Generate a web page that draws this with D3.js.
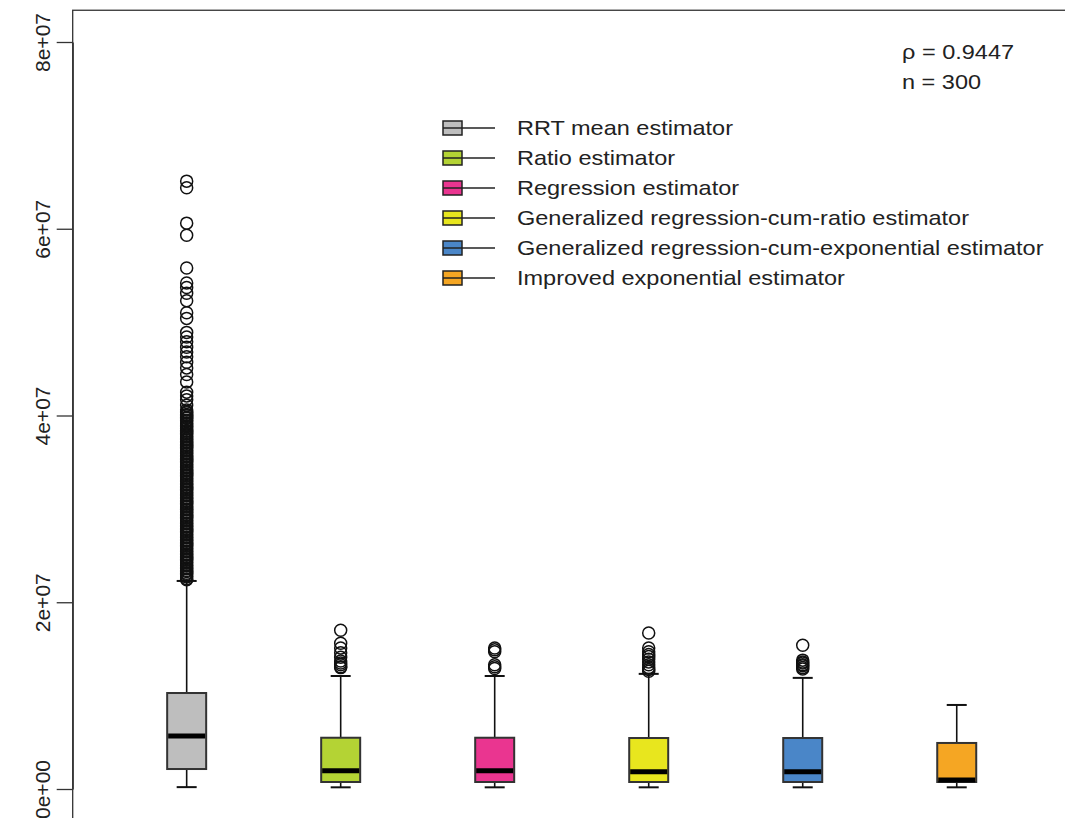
<!DOCTYPE html>
<html>
<head>
<meta charset="utf-8">
<script src="https://cdn.jsdelivr.net/npm/d3@7"></script>
<style>
  body { margin: 0; background: #fff; }
  text { font-family: "Liberation Sans", Arial, sans-serif; fill: #222; }
</style>
</head>
<body>
<div id="chart"></div>
<script>
// estimator names, in box order
var categories = [
    "RRT mean estimator",
    "Ratio estimator",
    "Regression estimator",
    "Generalized regression-cum-ratio estimator",
    "Generalized regression-cum-exponential estimator",
    "Improved exponential estimator"
];
var colors = ["#bebebe", "#b4d334", "#ea3590", "#e8e61e", "#4a86c8", "#f5a623"];

// box statistics
var whiskerLow  = [0.02e7, 0.018e7, 0.018e7, 0.018e7, 0.018e7, 0.018e7];
var quartile1   = [0.214e7, 0.075e7, 0.075e7, 0.075e7, 0.075e7, 0.075e7];
var medians     = [0.568e7, 0.196e7, 0.196e7, 0.185e7, 0.185e7, 0.097e7];
var quartile3   = [1.028e7, 0.549e7, 0.549e7, 0.546e7, 0.546e7, 0.493e7];
var whiskerHigh = [2.228e7, 1.21e7, 1.21e7, 1.233e7, 1.19e7, 0.90e7];

// outliers (e7 units)
var outliersRRT = [6.51, 6.44, 6.06, 5.93, 5.58, 5.42, 5.37, 5.31, 5.23, 5.10, 5.04,
    4.89, 4.84, 4.79, 4.73, 4.68, 4.63, 4.57, 4.51, 4.44, 4.36, 4.25, 4.21, 4.17, 4.11,
    4.06, 4.04, 4.03, 4.01, 4.00, 3.98, 3.97, 3.95, 3.94, 3.92, 3.91, 3.89, 3.88, 3.86,
    3.84, 3.83, 3.81, 3.80, 3.78, 3.77, 3.75, 3.74, 3.72, 3.71, 3.69, 3.68, 3.66, 3.65,
    3.63, 3.62, 3.60, 3.59, 3.57, 3.56, 3.54, 3.53, 3.51, 3.50, 3.48, 3.47, 3.45, 3.44,
    3.42, 3.41, 3.39, 3.38, 3.36, 3.35, 3.33, 3.32, 3.30, 3.29, 3.27, 3.26, 3.24, 3.23,
    3.21, 3.20, 3.18, 3.17, 3.15, 3.14, 3.12, 3.11, 3.09, 3.08, 3.06, 3.05, 3.03, 3.02,
    3.00, 2.99, 2.97, 2.96, 2.94, 2.93, 2.91, 2.90, 2.88, 2.87, 2.85, 2.84, 2.82, 2.81,
    2.79, 2.78, 2.76, 2.75, 2.73, 2.72, 2.70, 2.69, 2.67, 2.66, 2.64, 2.63, 2.61, 2.60,
    2.58, 2.57, 2.55, 2.54, 2.52, 2.51, 2.49, 2.48, 2.46, 2.45, 2.43, 2.42, 2.40, 2.39,
    2.37, 2.36, 2.34, 2.33, 2.31, 2.30, 2.28, 2.27, 2.25, 2.24];
var outliersRatio = [1.70, 1.56, 1.51, 1.46, 1.41, 1.37, 1.35, 1.33, 1.31, 1.30];
var outliersRegression = [1.51, 1.49, 1.47, 1.33, 1.31, 1.29];
var outliersGenRatio = [1.67, 1.51, 1.47, 1.44, 1.42, 1.39, 1.36, 1.33, 1.30, 1.28, 1.26];
var outliersGenExp = [1.54, 1.38, 1.36, 1.35, 1.33, 1.32, 1.30, 1.285];
var outliersImproved = [];
var outliers = [outliersRRT, outliersRatio, outliersRegression, outliersGenRatio, outliersGenExp, outliersImproved];

var yTicks = [0, 2e7, 4e7, 6e7, 8e7];
var yTickLabels = ["0e+00", "2e+07", "4e+07", "6e+07", "8e+07"];
var annotation = ["\u03c1 = 0.9447", "n = 300"];

var canvas_width = 1065,
    canvas_height = 818;

var svg = d3.select("#chart")
    .append("svg")
    .attr("width", canvas_width)
    .attr("height", canvas_height);

// R style extended limits (4%)
var xScale = d3.scaleLinear()
    .domain([0.26, 6.74])
    .range([72.7, 1070.7]);

var yScale = d3.scaleLinear()
    .domain([0, 8e7])
    .range([789, 42]);

var boxW = 39, capW = 20;
var stretch = 1.12; // horizontal text looks wider than the rotated labels

// frame
svg.append("rect")
    .attr("x", xScale(0.26))
    .attr("y", yScale(8.34e7))
    .attr("width", xScale(6.74) - xScale(0.26))
    .attr("height", yScale(-0.32e7) - yScale(8.34e7))
    .attr("fill", "none")
    .attr("stroke", "#333")
    .attr("stroke-width", 1.3);

// y axis
var yAxis = svg.append("g")
    .attr("transform", "translate(" + xScale(0.26) + ",0)")
    .call(d3.axisLeft(yScale)
        .tickValues(yTicks)
        .tickFormat(function (d, i) { return yTickLabels[i]; })
        .tickSize(16)
        .tickSizeOuter(0));
yAxis.select(".domain").attr("stroke", "#333").attr("stroke-width", 1.3);
yAxis.selectAll(".tick line").attr("stroke", "#333").attr("stroke-width", 1.3);
yAxis.selectAll(".tick text")
    .attr("transform", "rotate(-90)")
    .attr("text-anchor", "middle")
    .attr("x", 0)
    .attr("y", -23)
    .attr("dy", 0)
    .style("font-size", "21px")
    .style("font-family", "'Liberation Sans', Arial, sans-serif")
    .attr("fill", "#222");

var boxes = svg.selectAll(".box")
    .data(categories)
    .enter()
    .append("g")
    .attr("class", "box");

// whiskers
boxes.append("line")
    .attr("x1", (d, i) => xScale(i + 1)).attr("x2", (d, i) => xScale(i + 1))
    .attr("y1", (d, i) => yScale(whiskerLow[i])).attr("y2", (d, i) => yScale(quartile1[i]))
    .attr("stroke", "#111").attr("stroke-width", 1.6);
boxes.append("line")
    .attr("x1", (d, i) => xScale(i + 1)).attr("x2", (d, i) => xScale(i + 1))
    .attr("y1", (d, i) => yScale(whiskerHigh[i])).attr("y2", (d, i) => yScale(quartile3[i]))
    .attr("stroke", "#111").attr("stroke-width", 1.6);
// caps
[whiskerLow, whiskerHigh].forEach(function (arr) {
    boxes.append("line")
        .attr("x1", (d, i) => xScale(i + 1) - capW / 2).attr("x2", (d, i) => xScale(i + 1) + capW / 2)
        .attr("y1", (d, i) => yScale(arr[i])).attr("y2", (d, i) => yScale(arr[i]))
        .attr("stroke", "#111").attr("stroke-width", 2);
});

// boxes
boxes.append("rect")
    .attr("x", (d, i) => xScale(i + 1) - boxW / 2)
    .attr("y", (d, i) => yScale(quartile3[i]))
    .attr("width", boxW)
    .attr("height", (d, i) => yScale(quartile1[i]) - yScale(quartile3[i]))
    .attr("fill", (d, i) => colors[i])
    .attr("stroke", "#333")
    .attr("stroke-width", 2);

// medians
boxes.append("line")
    .attr("x1", (d, i) => xScale(i + 1) - boxW / 2 + 1).attr("x2", (d, i) => xScale(i + 1) + boxW / 2 - 1)
    .attr("y1", (d, i) => yScale(medians[i])).attr("y2", (d, i) => yScale(medians[i]))
    .attr("stroke", "#000").attr("stroke-width", 5);

// outliers
boxes.each(function (d, i) {
    d3.select(this).selectAll("circle")
        .data(outliers[i])
        .enter()
        .append("circle")
        .attr("cx", xScale(i + 1))
        .attr("cy", v => yScale(v * 1e7))
        .attr("r", 6)
        .attr("fill", "none")
        .attr("stroke", "#111")
        .attr("stroke-width", 1.5);
});

// legend
var legend = svg.append("g");
var legendRows = legend.selectAll("g")
    .data(categories)
    .enter()
    .append("g")
    .attr("transform", (d, i) => "translate(443," + (128 + i * 30) + ")");

legendRows.append("rect")
    .attr("x", 0).attr("y", -7)
    .attr("width", 19).attr("height", 14)
    .attr("fill", (d, i) => colors[i])
    .attr("stroke", "#222")
    .attr("stroke-width", 1.5);
legendRows.append("line")
    .attr("x1", 0).attr("x2", 52)
    .attr("y1", 0).attr("y2", 0)
    .attr("stroke", "#222")
    .attr("stroke-width", 1.5);
legendRows.append("text")
    .attr("transform", "translate(74,0) scale(" + stretch + ",1)")
    .attr("dy", "0.35em")
    .style("font-size", "21px")
    .text(d => d);

// annotation
svg.selectAll(".annot")
    .data(annotation)
    .enter()
    .append("text")
    .attr("class", "annot")
    .attr("transform", (d, i) => "translate(902," + (52 + i * 30) + ") scale(" + stretch + ",1)")
    .attr("dy", "0.35em")
    .style("font-size", "21px")
    .text(d => d);
</script>
</body>
</html>
